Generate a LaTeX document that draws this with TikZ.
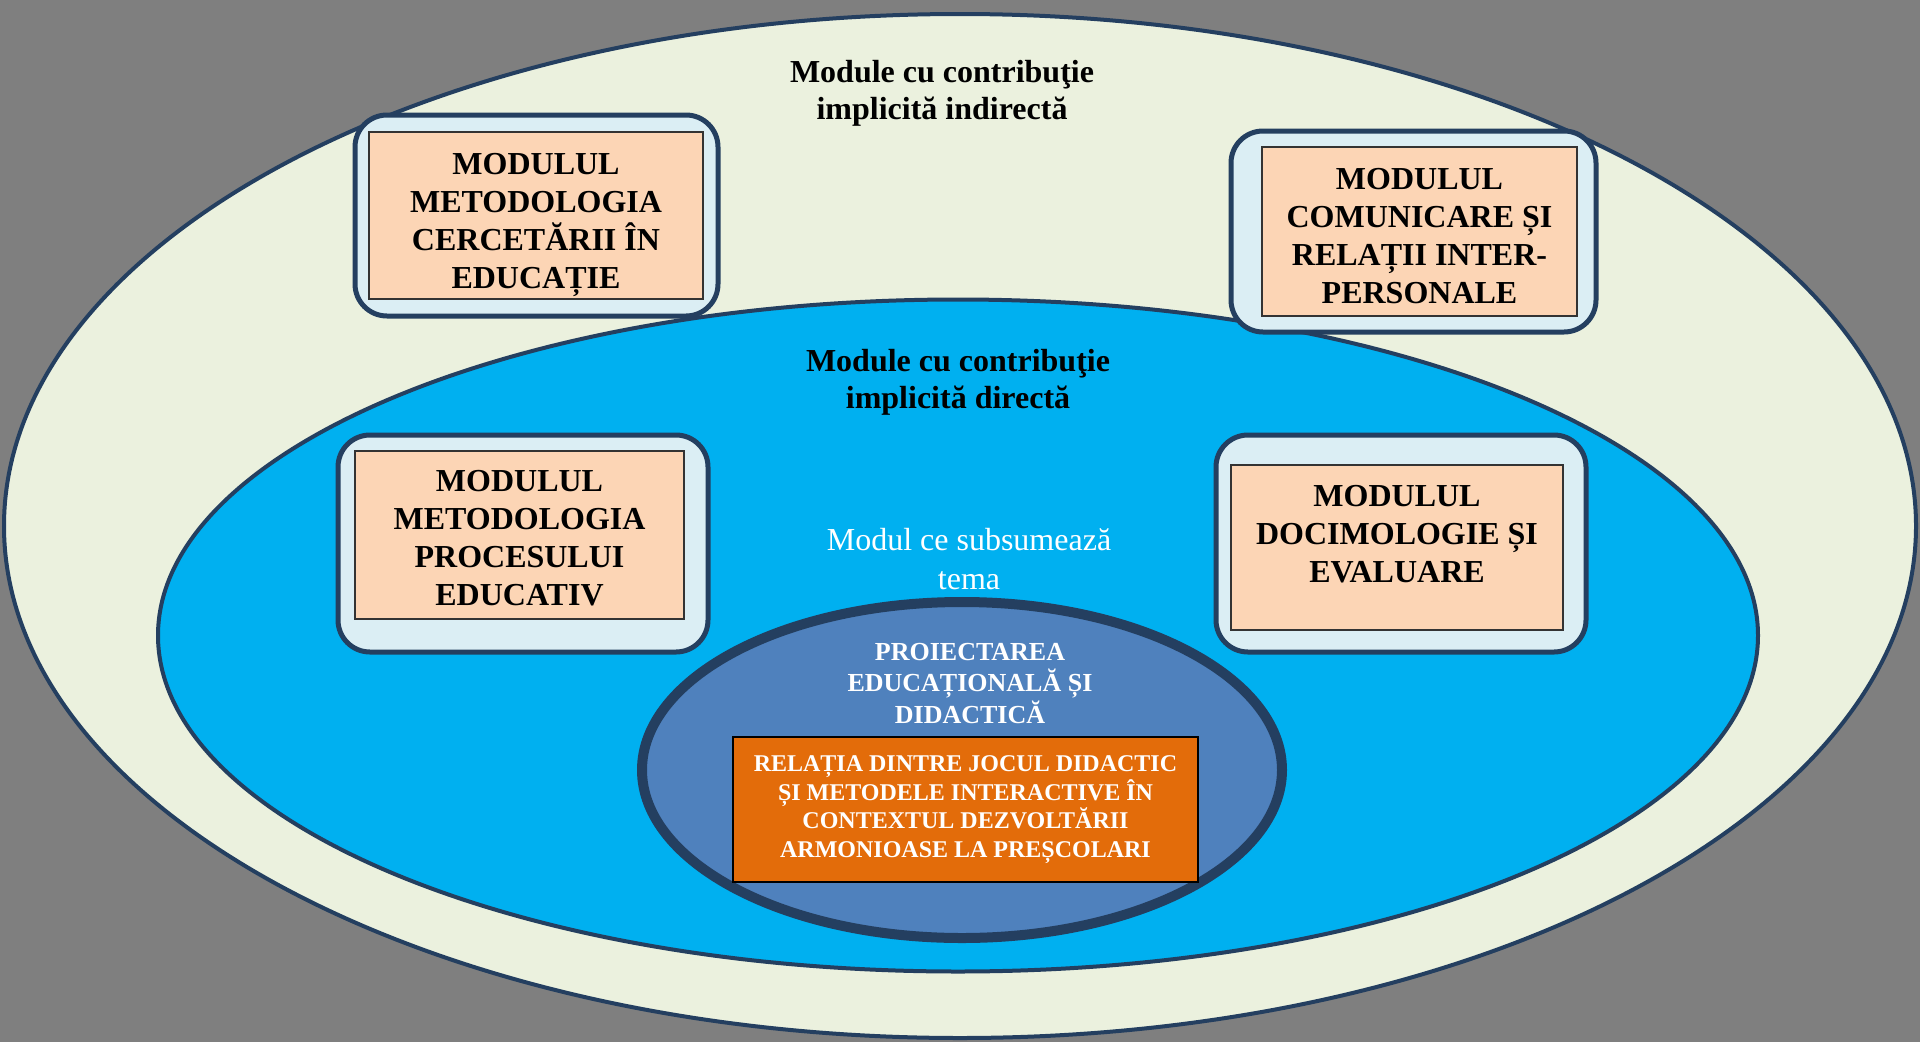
\documentclass[tikz,border=0pt]{standalone}
\usepackage{fontspec}
\setmainfont{Liberation Serif}
\definecolor{bggray}{HTML}{7F7F7F}
\definecolor{navy}{HTML}{243F60}
\definecolor{palegreen}{HTML}{EBF1DE}
\definecolor{skyblue}{HTML}{00B0F0}
\definecolor{steelblue}{HTML}{4F81BD}
\definecolor{paleblue}{HTML}{DBEEF4}
\definecolor{peach}{HTML}{FCD5B5}
\definecolor{deeporange}{HTML}{E36C0A}
\begin{document}
\begin{tikzpicture}[x=1pt,y=-1pt,
	frame/.style={draw=navy,line width=5pt,fill=paleblue,rounded corners=32pt,inner sep=0pt},
	modbox/.style={draw=black!80,line width=1.5pt,fill=peach,inner sep=0pt},
	modtext/.style={align=center,inner sep=0pt,font=\fontsize{32}{38}\selectfont\bfseries},
	title/.style={align=center,font=\fontsize{32}{37}\selectfont\bfseries},
	whitetext/.style={align=center,text=white}]
	\useasboundingbox (0,0) rectangle (1920,1042);
	\fill[bggray] (0,0) rectangle (1920,1042);
	%	\draw[color=gray,dash pattern=on 1pt off 1pt,step=100] (0,0) grid (1920,1042);
	\filldraw[fill=palegreen,draw=navy,line width=4pt] (960,526) ellipse [x radius=956,y radius=512];
	\filldraw[fill=skyblue,draw=navy,line width=4pt] (958,635.5) ellipse [x radius=800,y radius=336];
	\filldraw[fill=steelblue,draw=navy,line width=10pt] (962,770) ellipse [x radius=320,y radius=168];
	% titles
	\node[title] (indirecta) at (942,93) {Module cu contribuţie\\implicită indirectă};
	\node[title] (directa) at (958,382) {Module cu contribuţie\\implicită directă};
	\node[whitetext,font=\fontsize{32}{39}\selectfont] (subsumeaza) at (969,559.5) {Modul ce subsumează\\tema};
	% module boxes
	\node[frame,minimum width=363,minimum height=201] (cercetareF) at (536.5,215.5) {};
	\node[modbox,minimum width=334,minimum height=167] (cercetare) at (536,215.5) {};
	\node[modtext] (cercetareT) at (536,225) {MODULUL\\METODOLOGIA\\CERCETĂRII ÎN\\EDUCAȚIE};
	\node[frame,minimum width=365,minimum height=201] (comunicareF) at (1413.5,231.5) {};
	\node[modbox,minimum width=315,minimum height=169] (comunicare) at (1419.5,231.5) {};
	\node[modtext] (comunicareT) at (1419.5,236) {MODULUL\\COMUNICARE ȘI\\RELAȚII INTER-\\PERSONALE};
	\node[frame,minimum width=370,minimum height=217] (procesulF) at (523,543.5) {};
	\node[modbox,minimum width=329,minimum height=168] (procesul) at (519.5,535) {};
	\node[modtext] (procesulT) at (519.5,538) {MODULUL\\METODOLOGIA\\PROCESULUI\\EDUCATIV};
	\node[frame,minimum width=370,minimum height=217] (docimologieF) at (1401,543.5) {};
	\node[modbox,minimum width=332,minimum height=165] (docimologie) at (1397,547.5) {};
	\node[modtext] (docimologieT) at (1397,534) {MODULUL\\DOCIMOLOGIE ȘI\\EVALUARE};
	% theme
	\node[whitetext,font=\fontsize{26}{31.5}\selectfont\bfseries] (proiectarea) at (970,683.5) {PROIECTAREA\\EDUCAȚIONALĂ ȘI\\DIDACTICĂ};
	\node[draw=black,line width=1.5pt,fill=deeporange,minimum width=465,minimum height=145,inner sep=0pt,
		whitetext,font=\fontsize{24}{28.5}\selectfont\bfseries] (relatia) at (965.5,809.5)
		{RELAȚIA DINTRE JOCUL DIDACTIC\\ȘI METODELE INTERACTIVE ÎN\\CONTEXTUL DEZVOLTĂRII\\ARMONIOASE LA PREȘCOLARI};
\end{tikzpicture}
\end{document}
